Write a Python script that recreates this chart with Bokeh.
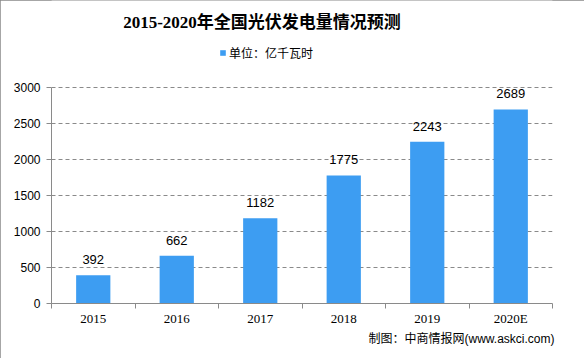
from bokeh.plotting import figure
from bokeh.models import (ColumnDataSource, FixedTicker, Label, LabelSet, Legend,
                          LegendItem, Range1d, Title)
from bokeh.core.properties import value
from bokeh.embed import file_html
from bokeh.resources import INLINE

# ---- data ----
years = ["2015", "2016", "2017", "2018", "2019", "2020E"]
values = [392, 662, 1182, 1775, 2243, 2689]
y_ticks = [0, 500, 1000, 1500, 2000, 2500, 3000]
title_text = "2015-2020年全国光伏发电量情况预测"
unit_text = "单位：亿千瓦时"
source_text = "制图：中商情报网(www.askci.com)"

BAR = "#3d9df2"
GRAY = "#8a8a8a"

W, H = 584, 358
LEFT, RIGHT, BOTTOM = 51, 32, 55
FRAME_H = H - BOTTOM            # frame reaches the top edge
AXIS_PX = 216.5                 # pixels spanned by 0..3000
y_max = y_ticks[-1] * FRAME_H / AXIS_PX

xpos = [i + 0.5 for i in range(len(years))]
src = ColumnDataSource(dict(x=xpos, top=values, lab=[str(v) for v in values]))

p = figure(width=W, height=H, output_backend="svg", toolbar_location=None,
           x_range=Range1d(0, len(years)), y_range=Range1d(0, y_max),
           min_border_left=LEFT, min_border_right=RIGHT, min_border_top=0,
           min_border_bottom=BOTTOM)
p.styles = {"outline": "1px solid #888888", "outline-offset": "-1px"}
p.outline_line_color = None
p.background_fill_color = "white"
p.border_fill_color = "white"

r = p.vbar(x="x", top="top", width=0.41, source=src, fill_color=BAR, line_color=None)

# value labels
p.add_layout(LabelSet(x="x", y="top", text="lab", source=src, text_align="center",
                      text_baseline="alphabetic", y_offset=11,
                      text_font=value("Liberation Sans"),
                      text_font_size=value("13px"), text_color="#000000"))

# x axis: boundary ticks, labels at centers
p.xaxis.ticker = FixedTicker(ticks=xpos, minor_ticks=list(range(len(years) + 1)))
p.xaxis.major_label_overrides = {x: y for x, y in zip(xpos, years)}
p.xaxis.major_tick_line_color = None
p.xaxis.major_tick_out = 5
p.xaxis.minor_tick_line_color = GRAY
p.xaxis.minor_tick_in = 0
p.xaxis.minor_tick_out = 5
p.xaxis.axis_line_color = GRAY
p.xaxis.major_label_standoff = 2
p.xaxis.major_label_text_font = "Liberation Serif"
p.xaxis.major_label_text_font_size = "13px"
p.xaxis.major_label_text_color = "#000000"

# y axis
p.yaxis.ticker = FixedTicker(ticks=y_ticks)
p.yaxis.bounds = (y_ticks[0], y_ticks[-1])
p.yaxis.axis_line_color = GRAY
p.yaxis.major_tick_line_color = GRAY
p.yaxis.major_tick_in = 0
p.yaxis.major_tick_out = 5
p.yaxis.minor_tick_line_color = None
p.yaxis.major_label_standoff = 6
p.yaxis.major_label_text_font = "Liberation Sans"
p.yaxis.major_label_text_font_size = "12px"
p.yaxis.major_label_text_color = "#000000"

p.xgrid.grid_line_color = None
p.ygrid.grid_line_color = GRAY
p.ygrid.grid_line_dash = "4 3"

# title (inside the tall frame, above the plotting area)
p.add_layout(Label(x=210.5, y=FRAME_H - 21.5, x_units="screen", y_units="screen",
                   text=title_text, text_align="center", text_baseline="middle",
                   text_font="Liberation Serif, Noto Sans CJK SC", text_font_style="bold",
                   text_font_size="17px", text_color="#000000"))

# legend
leg = Legend(items=[LegendItem(label=unit_text, renderers=[r])],
             location=(168, FRAME_H - 53.5 - 7),
             orientation="horizontal", glyph_width=7, glyph_height=7, label_standoff=3,
             label_text_font="Noto Sans CJK SC", label_text_font_size="12px",
             label_text_color="#000000", padding=0, margin=0, spacing=0,
             border_line_color=None, background_fill_alpha=0, label_height=14)
p.add_layout(leg, "center")

# source footer
p.add_layout(Title(text=source_text, align="right", offset=-2, standoff=2,
                   text_font="Liberation Sans, Noto Sans CJK SC", text_font_size="12px",
                   text_font_style="normal", text_color="#000000"), "below")

open("out.html", "w").write(file_html(p, INLINE))
